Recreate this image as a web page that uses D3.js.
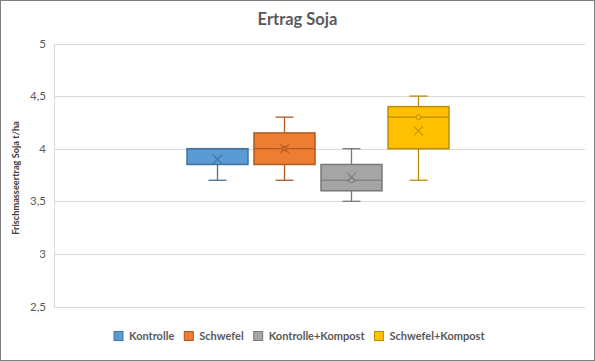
<!DOCTYPE html>
<html><head><meta charset="utf-8">
<script src="https://cdn.jsdelivr.net/npm/d3@7"></script>
<style>
html,body{margin:0;padding:0;background:#fff;}
svg{display:block;font-family:Lato,"Open Sans",sans-serif;}
</style></head>
<body>
<svg id="chart" width="595" height="361"></svg>
<script>
const title = "Ertrag Soja";
const yAxisTitle = "Frischmasseertrag  Soja t/ha";
const categories = ["Kontrolle", "Schwefel", "Kontrolle+Kompost", "Schwefel+Kompost"];
const whiskerLow  = [3.7, 3.7, 3.5, 3.7];
const quartile1   = [3.85, 3.85, 3.6, 4.0];
const medians     = [4.0, 4.0, 3.7, 4.3];
const quartile3   = [4.0, 4.15, 3.85, 4.4];
const whiskerHigh = [4.0, 4.3, 4.0, 4.5];
const means       = [3.9, 4.0, 3.73, 4.17];
const innerPoints = [[], [4.0], [3.7], [4.3]];
const yTicks = [2.5, 3, 3.5, 4, 4.5, 5];
const fills   = ["#5B9BD5", "#ED7D31", "#A5A5A5", "#FFC000"];
const strokes = ["#41719C", "#AE5A21", "#787878", "#BC8C00"];

const svg = d3.select("#chart");
const W = 595, H = 361;
const plot = {left: 54.5, right: 585, top: 43.5, bottom: 306.5};

svg.append("rect").attr("x",0.5).attr("y",0.5).attr("width",W-1).attr("height",H-1)
  .attr("fill","#fff").attr("stroke","#7F7F7F").attr("stroke-width",1);

const y = d3.scaleLinear().domain([2.5,5]).range([plot.bottom, plot.top]);
const mid = 318;
const x = d3.scaleBand().domain(categories).range([mid-131, mid+131]).paddingInner(6/67).paddingOuter(0);

// gridlines
svg.append("g").selectAll("line").data(yTicks).join("line")
  .attr("x1", plot.left).attr("x2", plot.right)
  .attr("y1", d=>Math.round(y(d))+0.5).attr("y2", d=>Math.round(y(d))+0.5)
  .attr("stroke","#D9D9D9").attr("stroke-width",1);
svg.append("line").attr("x1",plot.left).attr("x2",plot.left)
  .attr("y1",Math.round(y(5))+0.5).attr("y2",Math.round(y(2.5))+0.5)
  .attr("stroke","#D9D9D9");

// y axis labels
const fmt = d => String(d).replace(".", ",");
svg.append("g").selectAll("text").data(yTicks).join("text")
  .attr("x", 46).attr("y", d=>y(d)+4)
  .attr("text-anchor","end").attr("font-size",11.5).attr("fill","#595959")
  .text(fmt);

// axis title
svg.append("text").attr("transform",`translate(19,178) rotate(-90)`)
  .attr("text-anchor","middle").attr("font-size",9.2).attr("font-weight","bold").attr("fill","#404040")
  .text(yAxisTitle);

// title
svg.append("text").attr("x",W/2).attr("y",25).attr("text-anchor","middle")
  .attr("font-size",16.5).attr("font-weight","bold").attr("fill","#595959").text(title);

// boxes
const data = categories.map((c,i)=>({c,i,lo:whiskerLow[i],q1:quartile1[i],med:medians[i],q3:quartile3[i],hi:whiskerHigh[i],mean:means[i],pts:innerPoints[i]}));
const g = svg.append("g");
const bw = x.bandwidth();
data.forEach(d=>{
  const x0 = x(d.c), cx = x0 + bw/2, col = strokes[d.i];
  const gg = g.append("g");
  const capW = 9;
  if (d.hi > d.q3) {
    gg.append("line").attr("x1",cx).attr("x2",cx).attr("y1",y(d.q3)).attr("y2",y(d.hi)).attr("stroke",col).attr("stroke-width",1.3);
  }
  gg.append("line").attr("x1",cx-capW).attr("x2",cx+capW).attr("y1",y(d.hi)).attr("y2",y(d.hi)).attr("stroke",col).attr("stroke-width",1.3);
  if (d.lo < d.q1) {
    gg.append("line").attr("x1",cx).attr("x2",cx).attr("y1",y(d.q1)).attr("y2",y(d.lo)).attr("stroke",col).attr("stroke-width",1.3);
  }
  gg.append("line").attr("x1",cx-capW).attr("x2",cx+capW).attr("y1",y(d.lo)).attr("y2",y(d.lo)).attr("stroke",col).attr("stroke-width",1.3);
  gg.append("rect").attr("x",x0).attr("y",y(d.q3)).attr("width",bw).attr("height",y(d.q1)-y(d.q3))
    .attr("fill",fills[d.i]).attr("stroke",col).attr("stroke-width",1.5);
  gg.append("line").attr("x1",x0).attr("x2",x0+bw).attr("y1",y(d.med)).attr("y2",y(d.med)).attr("stroke",col).attr("stroke-width",1.2);
  d.pts.forEach(p=>{
    gg.append("circle").attr("cx",cx).attr("cy",y(p)).attr("r",2.5).attr("fill",fills[d.i]).attr("stroke",col).attr("stroke-width",1);
  });
  const m = 4.5, my = y(d.mean);
  gg.append("path").attr("d",`M${cx-m},${my-m}L${cx+m},${my+m}M${cx-m},${my+m}L${cx+m},${my-m}`)
    .attr("stroke",col).attr("stroke-width",1.2).attr("fill","none").attr("opacity",0.85);
});

// legend
const lg = svg.append("g");
let lx = 0;
categories.forEach((c,i)=>{
  const it = lg.append("g");
  it.append("rect").attr("x",0.5).attr("y",-4.5).attr("width",9).attr("height",9)
    .attr("fill",fills[i]).attr("stroke",strokes[i]).attr("stroke-width",1);
  const t = it.append("text").attr("x",15.5).attr("y",4).attr("font-size",11).attr("font-weight","bold")
    .attr("fill","#595959").text(c);
  const w = 15.5 + t.node().getComputedTextLength();
  it.attr("transform",`translate(${lx},336)`);
  lx += w + 9.5;
});
const total = lx - 9.5;
lg.attr("transform",`translate(${(114+484)/2 - total/2},0)`);
</script>
</body></html>
